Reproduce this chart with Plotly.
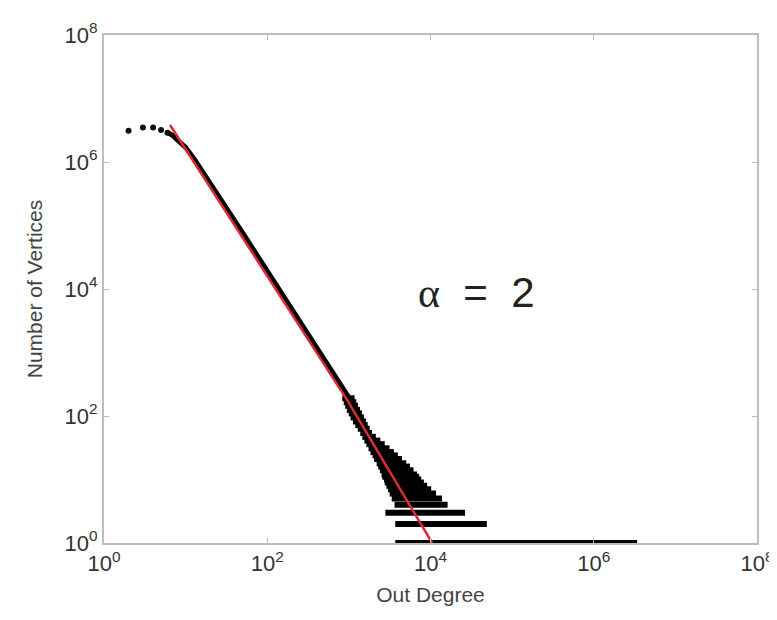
import plotly.graph_objects as go

# ---- data ----
# low-degree isolated points
head_deg = [2, 3, 4, 5, 6]
head_cnt = [3.1e6, 3.5e6, 3.5e6, 3.2e6, 2.9e6]

# dense main body of the degree distribution
curve_deg = [6, 7, 8, 10, 13, 16, 20, 26, 33, 43, 55, 70, 100, 150, 200,
             300, 400, 500, 650, 800, 1000]
curve_cnt = [2.9e6, 2.6e6, 2.2e6, 1.7e6, 1.07e6, 7.2e5, 4.7e5, 2.8e5, 1.75e5,
             1.05e5, 6.3e4, 3.9e4, 1.9e4, 8500, 4800, 2100, 1200, 760, 460,
             300, 195]

# scatter tail: for each vertex count, span of degrees holding that count
low_cnt = [1, 2, 3]
low_start = [3700, 3700, 2800]
low_end = [3.4e6, 49000, 26500]

band_cnt = [190, 165, 145, 125, 110, 95, 82, 72, 63, 54, 47, 41, 36, 31, 27,
            24, 21, 18, 16, 14, 12, 11, 10, 9, 8, 7, 6, 5, 4]
band_start = [830, 865, 900, 945, 995, 1050, 1122, 1200, 1285, 1380, 1460,
              1550, 1640, 1740, 1840, 1950, 2040, 2190, 2290, 2400, 2510,
              2570, 2690, 2750, 2880, 3020, 3160, 3350, 3630]
band_end = [1175, 1230, 1290, 1370, 1445, 1530, 1620, 1700, 1800, 1920, 2140,
            2430, 2750, 3150, 3560, 3980, 4470, 5040, 5600, 6200, 6840, 7250,
            7700, 8300, 9100, 10200, 11700, 13800, 16200]

# fitted power-law line (alpha = 2)
fit_deg = [6.44, 950, 10500]
fit_cnt = [3.83e6, 179, 1]

alpha_label = "<span style='font-family:Liberation Serif, Times New Roman, serif'>\u03b1</span>  =  2"
x_ticks = [1, 1e2, 1e4, 1e6, 1e8]
x_ticktext = ["10<sup>0</sup>", "10<sup>2</sup>", "10<sup>4</sup>",
              "10<sup>6</sup>", "10<sup>8</sup>"]
y_ticks = [1, 1e2, 1e4, 1e6, 1e8]
y_ticktext = ["10<sup>0</sup>", "10<sup>2</sup>", "10<sup>4</sup>",
              "10<sup>6</sup>", "10<sup>8</sup>"]

FONT = "Liberation Sans, Arial, sans-serif"

# ---- figure ----
def spans(cnts, starts, ends):
    xs, ys = [], []
    for c, s, e in zip(cnts, starts, ends):
        xs += [s, e, None]
        ys += [c, c, None]
    return xs, ys

fig = go.Figure()
lx, ly = spans(low_cnt, low_start, low_end)
fig.add_trace(go.Scatter(x=lx, y=ly, mode="lines",
                         line=dict(color="black", width=6),
                         hoverinfo="skip", showlegend=False))
bx, by = spans(band_cnt, band_start, band_end)
fig.add_trace(go.Scatter(x=bx, y=by, mode="lines",
                         line=dict(color="black", width=6),
                         hoverinfo="skip", showlegend=False))
fig.add_trace(go.Scatter(x=curve_deg, y=curve_cnt, mode="lines",
                         line=dict(color="black", width=5),
                         showlegend=False))
fig.add_trace(go.Scatter(x=head_deg, y=head_cnt, mode="markers",
                         marker=dict(color="#111111", size=6),
                         showlegend=False))
fig.add_trace(go.Scatter(x=fit_deg, y=fit_cnt, mode="lines",
                         line=dict(color="#dc2a38", width=2.5),
                         showlegend=False))

fig.add_annotation(x=4.56, y=3.95, xref="x", yref="y", text=alpha_label,
                   showarrow=False,
                   font=dict(size=42, color="#222222", family=FONT))

axis_common = dict(type="log", range=[0, 8], showgrid=False, zeroline=False,
                   showline=True, mirror="ticks", linecolor="#bdbdbd",
                   linewidth=2, ticks="inside", ticklen=5, tickcolor="#bdbdbd",
                   automargin=False,
                   tickfont=dict(size=22, color="#333333", family=FONT))

fig.update_xaxes(**axis_common, tickvals=x_ticks, ticktext=x_ticktext,
                 title=dict(text="Out Degree", standoff=12,
                            font=dict(size=21, color="#444444", family=FONT)))
fig.update_yaxes(**axis_common, tickvals=y_ticks, ticktext=y_ticktext,
                 title=dict(text="Number of Vertices", standoff=16,
                            font=dict(size=21, color="#444444", family=FONT)))

# the page adds an 8px body margin, so the figure is 8px smaller
fig.update_layout(width=769, height=612, plot_bgcolor="white",
                  paper_bgcolor="white",
                  margin=dict(l=96, r=20, t=27, b=77))

fig.write_html("out.html")
